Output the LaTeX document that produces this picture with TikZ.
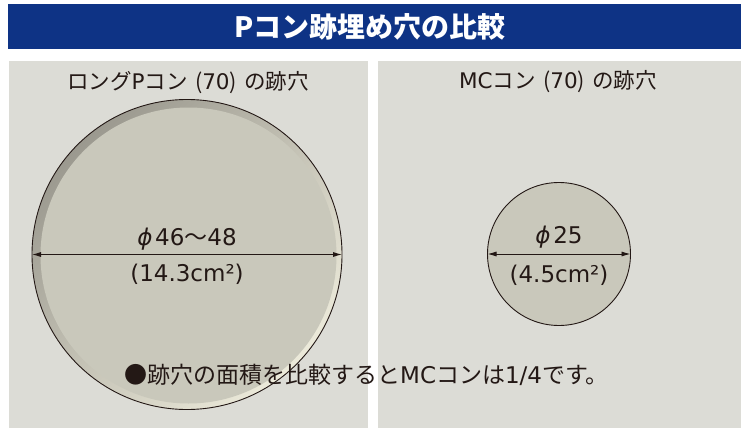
\documentclass[tikz,border=0pt]{standalone}
\usepackage{fontspec}
\setmainfont{Noto Sans CJK JP}
\newfontfamily\lat{DejaVu Sans}
\usetikzlibrary{arrows.meta}
\definecolor{barblue}{HTML}{0E3385}
\definecolor{panelgray}{HTML}{DCDCD6}
\definecolor{facegray}{HTML}{C9C8BB}
\definecolor{rimdark}{HTML}{9B998F}
\definecolor{rimlight}{HTML}{ECEADA}
\definecolor{inkc}{HTML}{231815}
\newcommand{\phisym}{{\lat\itshape ϕ}\hspace{0.12em}}
\tikzset{
  panel/.style={fill=panelgray, draw=none},
  heading/.style={text=inkc, font=\fontsize{21.5}{24}\selectfont, inner sep=0pt},
  dimlabel/.style={text=inkc, font=\fontsize{23}{26}\selectfont\lat, inner sep=0pt},
  hole/.style={circle, draw=inkc, line width=0.9pt, inner sep=0pt, outer sep=0pt},
  dimline/.style={draw=inkc, line width=0.9pt, {Latex[length=9pt,width=5pt]}-{Latex[length=9pt,width=5pt]}}
}
\begin{document}
\begin{tikzpicture}[x=1pt,y=-1pt]
\useasboundingbox (0,0) rectangle (741,428);
% title bar
\fill[barblue] (8,4) rectangle (741,49);
\node[text=white, font=\fontsize{28}{32}\selectfont\bfseries, inner sep=0pt] (title) at (370,27) {Pコン跡埋め穴の比較};
% panels
\fill[panel] (9,61) rectangle (368,428);
\fill[panel] (378,61) rectangle (741,428);
\node[heading] (lhead) at (188,83) {ロング{\lat P}コン\hspace{0.35em}({\lat 70})\hspace{0.35em}の跡穴};
\node[heading] (rhead) at (558,82) {{\lat MC}コン\hspace{0.35em}({\lat 70})\hspace{0.35em}の跡穴};
% big hole
\shade[top color=rimdark, bottom color=rimlight, shading angle=45] (187,254.5) circle (155);
\fill[facegray] (188.5,255.5) circle (148);
\node[hole, minimum size=310pt] (bigc) at (187,254.5) {};
\draw[dimline] (bigc.west) -- (bigc.east);
\node[dimlabel] (bigd) at (187,239) {\phisym 46{\rmfamily 〜}48};
\node[dimlabel] (biga) at (187,274) {(14.3cm²)};
% small hole
\node[hole, fill=facegray, minimum size=143pt] (smc) at (559,254) {};
\draw[dimline] (smc.west) -- (smc.east);
\node[dimlabel] (smd) at (559,237) {\phisym 25};
\node[dimlabel] (sma) at (559,275) {(4.5cm²)};
% note
\node[text=inkc, font=\fontsize{23}{26}\selectfont, inner sep=0pt] (note) at (366.5,375) {●跡穴の面積を比較すると{\lat MC}コンは{\lat 1/4}です。};
\end{tikzpicture}
\end{document}
